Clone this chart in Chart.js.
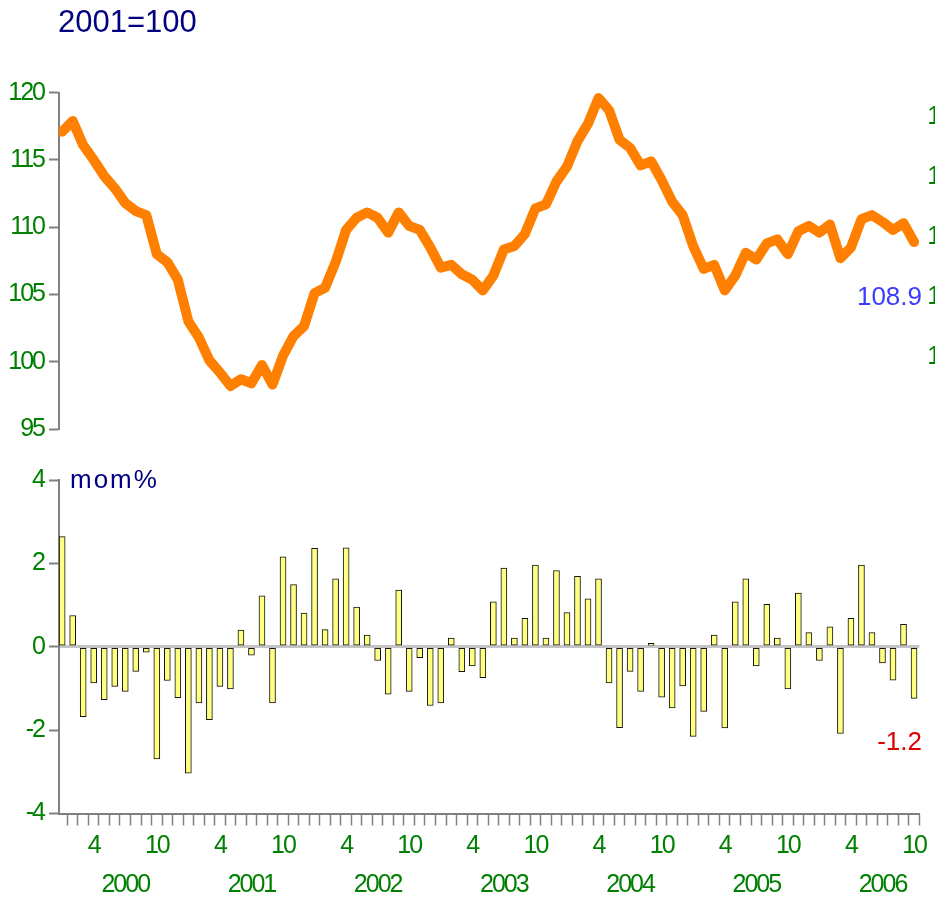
<!DOCTYPE html>
<html><head><meta charset="utf-8">
<script src="https://cdn.jsdelivr.net/npm/chart.js@4.4.1/dist/chart.umd.min.js"></script>
<style>
html,body{margin:0;padding:0;background:#fff;overflow:hidden}
#wrap{position:relative;width:935px;height:901px;background:#fff}
canvas{position:absolute;left:0}
#c1{top:0}
#c2{top:450px}
</style></head><body>
<div id="wrap"><canvas id="c1" width="935" height="450"></canvas><canvas id="c2" width="935" height="451"></canvas></div>
<script>
// ---- data ----
const categories = [
 '2000-01','2000-02','2000-03','2000-04','2000-05','2000-06','2000-07','2000-08','2000-09','2000-10','2000-11','2000-12',
 '2001-01','2001-02','2001-03','2001-04','2001-05','2001-06','2001-07','2001-08','2001-09','2001-10','2001-11','2001-12',
 '2002-01','2002-02','2002-03','2002-04','2002-05','2002-06','2002-07','2002-08','2002-09','2002-10','2002-11','2002-12',
 '2003-01','2003-02','2003-03','2003-04','2003-05','2003-06','2003-07','2003-08','2003-09','2003-10','2003-11','2003-12',
 '2004-01','2004-02','2004-03','2004-04','2004-05','2004-06','2004-07','2004-08','2004-09','2004-10','2004-11','2004-12',
 '2005-01','2005-02','2005-03','2005-04','2005-05','2005-06','2005-07','2005-08','2005-09','2005-10','2005-11','2005-12',
 '2006-01','2006-02','2006-03','2006-04','2006-05','2006-06','2006-07','2006-08','2006-09','2006-10'
];
const indexLevel = [
 117.1,117.9,116.1,115.0,113.8,112.9,111.8,111.2,110.9,108.0,107.4,106.1,
 103.0,101.8,100.1,99.2,98.2,98.7,98.4,99.75,98.3,100.45,101.9,102.65,
 105.1,105.5,107.4,109.8,110.7,111.1,110.7,109.6,111.1,110.1,109.8,108.5,
 107.0,107.2,106.5,106.1,105.3,106.4,108.35,108.6,109.5,111.4,111.7,113.4,
 114.5,116.4,117.7,119.6,118.7,116.5,115.9,114.6,114.9,113.5,111.9,110.9,
 108.6,106.9,107.2,105.3,106.4,108.1,107.6,108.8,109.1,108.0,109.7,110.1,
 109.6,110.2,107.7,108.5,110.6,110.9,110.4,109.8,110.3,108.9
];
const momPct = [
 2.64,0.75,-1.68,-0.87,-1.27,-0.95,-1.07,-0.59,-0.13,-2.69,-0.81,-1.22,
 -3.03,-1.35,-1.75,-0.95,-1.01,0.40,-0.20,1.22,-1.35,2.16,1.49,0.81,
 2.36,0.41,1.63,2.37,0.95,0.28,-0.33,-1.14,1.36,-1.07,-0.26,-1.41,
 -1.35,0.21,-0.60,-0.46,-0.74,1.08,1.89,0.21,0.68,1.96,0.21,1.83,
 0.82,1.69,1.15,1.63,-0.87,-1.94,-0.59,-1.07,0.08,-1.21,-1.47,-0.94,
 -2.15,-1.55,0.28,-1.95,1.08,1.63,-0.46,1.02,0.21,-1.01,1.29,0.34,
 -0.33,0.48,-2.08,0.68,1.96,0.34,-0.39,-0.80,0.54,-1.24
];
const monthTickLabels = {'04':'4','10':'10'};
const yearLabelMonth = '07';
const levelTicksLeft = [95,100,105,110,115,120];
const levelTicksRight = [100,110,120,130,140];
const momTicks = [-4,-2,0,2,4];
const titleText = '2001=100';
const momTitle = 'mom%';

// ---- style ----
const FONT = "'Liberation Sans', Arial, sans-serif";
const GREEN = '#008000';
const GRAY = '#808080';

const spacingPlugin = {
  id: 'spacing',
  beforeDraw(chart){ chart.ctx.letterSpacing = '-2px'; },
  beforeDatasetsDraw(chart){ chart.ctx.letterSpacing = '0px'; }
};

const topText = {
  id: 'topText',
  afterDraw(chart){
    const ctx = chart.ctx;
    ctx.save();
    ctx.letterSpacing = '0px';
    ctx.textBaseline = 'alphabetic';
    ctx.font = '31px ' + FONT;
    ctx.fillStyle = '#000080';
    ctx.textAlign = 'left';
    ctx.fillText(titleText, 58, 32);
    ctx.font = '26px ' + FONT;
    ctx.fillStyle = '#3c3cff';
    ctx.textAlign = 'right';
    ctx.fillText(indexLevel[indexLevel.length-1].toFixed(1), 922, 305);
    // right-hand axis labels, clipped by the canvas edge
    const s = chart.scales.y2;
    if (s) {
      ctx.letterSpacing = '-2px';
      ctx.font = '25px ' + FONT;
      ctx.fillStyle = GREEN;
      ctx.textAlign = 'left';
      ctx.textBaseline = 'middle';
      levelTicksRight.forEach(v => ctx.fillText(String(v), s.left + 8, s.getPixelForValue(v)));
    }
    ctx.restore();
  }
};
const bottomText = {
  id: 'bottomText',
  afterDraw(chart){
    const ctx = chart.ctx;
    ctx.save();
    ctx.textBaseline = 'alphabetic';
    ctx.font = '26px ' + FONT;
    ctx.letterSpacing = '2px';
    ctx.fillStyle = '#000080';
    ctx.textAlign = 'left';
    ctx.fillText(momTitle, 70, 38);
    ctx.letterSpacing = '0px';
    ctx.fillStyle = '#dd0000';
    ctx.textAlign = 'right';
    ctx.fillText(momPct[momPct.length-1].toFixed(1), 922, 300);
    ctx.restore();
  }
};

const xRange = {type:'linear', min:-0.3, max:81.5, offset:false};
const tickFont = {family: FONT, size: 25};

new Chart(document.getElementById('c1'), {
  type: 'line',
  data: { datasets: [{
    data: indexLevel.map((v,i)=>({x:i, y:v})),
    borderColor: '#ff8000', borderWidth: 10, pointRadius: 0,
    borderJoinStyle: 'round', borderCapStyle: 'round', tension: 0, fill: false
  }]},
  options: {
    responsive: false, animation: false, events: [],
    layout: {padding: {top: 92.7, bottom: 21, left: 0, right: 0}},
    plugins: {legend: {display:false}, tooltip: {enabled:false}},
    scales: {
      x: Object.assign({}, xRange, {display:false}),
      y: {
        position: 'left', min: 95, max: 120,
        afterFit(a){ a.width = 59; },
        afterBuildTicks(a){ a.ticks = levelTicksLeft.map(v=>({value:v})); },
        ticks: {color: GREEN, font: tickFont, padding: 5},
        grid: {drawOnChartArea:false, drawTicks:true, tickLength:10, tickColor:GRAY, tickWidth:2},
        border: {display:true, color:GRAY, width:2}
      },
      y2: {
        type: 'linear', position: 'right', min: 88, max: 144.05,
        afterFit(a){ a.width = 15.7; },
        afterBuildTicks(a){ a.ticks = levelTicksRight.map(v=>({value:v})); },
        ticks: {display:false},
        grid: {display:false}, border: {display:false}
      }
    }
  },
  plugins: [spacingPlugin, topText]
});

new Chart(document.getElementById('c2'), {
  type: 'bar',
  data: { datasets: [{
    data: momPct.map((v,i)=>({x:i, y:v})),
    backgroundColor: '#ffff80', borderColor: '#111111', borderWidth: 1,
    borderSkipped: false, barThickness: 6
  }]},
  options: {
    responsive: false, animation: false, events: [],
    layout: {padding: {top: 30, bottom: 0, left: 0, right: 15.7}},
    plugins: {legend: {display:false}, tooltip: {enabled:false}},
    scales: {
      x: Object.assign({}, xRange, {
        afterFit(a){ a.height = 87.5; },
        afterBuildTicks(a){ a.ticks = categories.map((c,i)=>({value:i})); },
        ticks: {
          autoSkip:false, maxRotation:0, minRotation:0, padding:1, color:GREEN,
          font: {family: FONT, size: 25, lineHeight: 1.56},
          callback(v){
            const c = categories[Math.round(v)];
            if (!c) return '';
            const [yy, mm] = c.split('-');
            return [monthTickLabels[mm] || '', mm === yearLabelMonth ? yy : ''];
          }
        },
        grid: {drawOnChartArea:false, drawTicks:true, tickLength:12, tickColor:GRAY, tickWidth:1.5},
        border: {display:true, color:GRAY, width:2}
      }),
      y: {
        position: 'left', min: -4, max: 4,
        afterFit(a){ a.width = 59; },
        afterBuildTicks(a){ a.ticks = momTicks.map(v=>({value:v})); },
        ticks: {color: GREEN, font: tickFont, padding: 5},
        grid: {
          drawOnChartArea: true, drawTicks: true, tickLength: 10,
          color: c => (c.tick && c.tick.value === 0) ? '#c4c4c4' : 'rgba(0,0,0,0)',
          lineWidth: c => (c.tick && c.tick.value === 0) ? 3 : 1,
          tickColor: GRAY, tickWidth: 2
        },
        border: {display:true, color:GRAY, width:2}
      }
    }
  },
  plugins: [spacingPlugin, bottomText]
});
</script>
</body></html>
